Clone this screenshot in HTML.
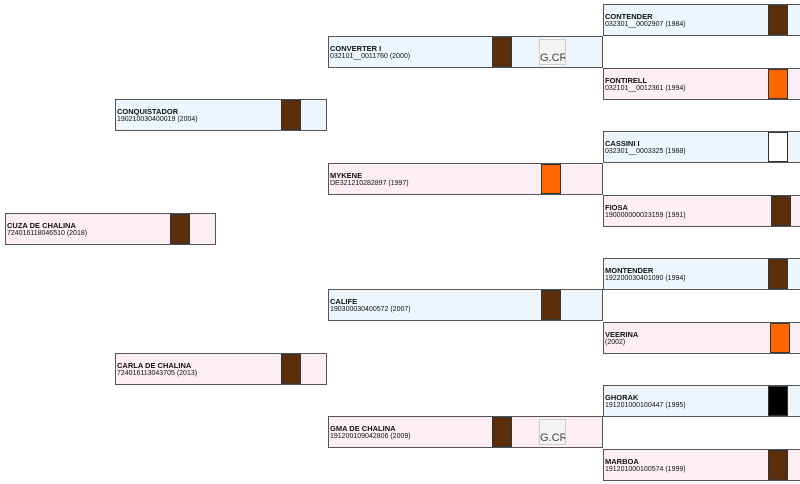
<!DOCTYPE html><html><head><style>
body{margin:0;width:800px;height:484px;position:relative;overflow:hidden;background:#fff;font-family:"Liberation Sans",sans-serif}
.b{position:absolute;box-sizing:border-box;border:1px solid #555;font-size:7px;line-height:8px;padding:0 0 0 1px;color:#111}
.b b{display:block;font-size:7.5px;padding-top:7px;line-height:9px}
.m{background:#eef6fd}.f{background:#fdeef3}
.c{position:absolute;top:0;bottom:0;width:20px;box-sizing:border-box;border:1px solid #333}
.br{background:#5c2e0a}.or{background:#ff6600}.wh{background:#fff}.bk{background:#000}
.img{position:absolute;top:2px;width:27px;height:26px;background:#f4f4f4;border:1px solid #ccc;font-size:11px;line-height:12px;color:#444;box-sizing:border-box;padding-top:12px;overflow:hidden}
</style></head><body>
<div class="b f" style="left:5px;top:213px;width:211px;height:32px"><b>CUZA DE CHALINA</b>724016118046510 (2018)<div class="c br" style="left:164px"></div></div>
<div class="b m" style="left:115px;top:99px;width:212px;height:32px"><b>CONQUISTADOR</b>190210030400019 (2004)<div class="c br" style="left:165px"></div></div>
<div class="b f" style="left:115px;top:353px;width:212px;height:32px"><b>CARLA DE CHALINA</b>724016113043705 (2013)<div class="c br" style="left:165px"></div></div>
<div class="b m" style="left:328px;top:36px;width:275px;height:32px"><b>CONVERTER I</b>032101__0011760 (2000)<div class="c br" style="left:163px"></div><div class="img" style="left:210px">G.CR</div></div>
<div class="b f" style="left:328px;top:163px;width:275px;height:32px"><b>MYKENE</b>DE321210282897 (1997)<div class="c or" style="left:212px"></div></div>
<div class="b m" style="left:328px;top:289px;width:275px;height:32px"><b>CALIFE</b>190300030400572 (2007)<div class="c br" style="left:212px"></div></div>
<div class="b f" style="left:328px;top:416px;width:275px;height:32px"><b>GMA DE CHALINA</b>191200109042806 (2009)<div class="c br" style="left:163px"></div><div class="img" style="left:210px">G.CR</div></div>
<div class="b m" style="left:603px;top:4px;width:200px;height:32px"><b>CONTENDER</b>032301__0002907 (1984)<div class="c br" style="left:164px"></div></div>
<div class="b f" style="left:603px;top:68px;width:200px;height:32px"><b>FONTIRELL</b>032101__0012361 (1994)<div class="c or" style="left:164px"></div></div>
<div class="b m" style="left:603px;top:131px;width:200px;height:32px"><b>CASSINI I</b>032301__0003325 (1988)<div class="c wh" style="left:164px"></div></div>
<div class="b f" style="left:603px;top:195px;width:200px;height:32px"><b>FIOSA</b>190000000023159 (1991)<div class="c br" style="left:167px"></div></div>
<div class="b m" style="left:603px;top:258px;width:200px;height:32px"><b>MONTENDER</b>192200030401090 (1994)<div class="c br" style="left:164px"></div></div>
<div class="b f" style="left:603px;top:322px;width:200px;height:32px"><b>VEERINA</b>(2002)<div class="c or" style="left:166px"></div></div>
<div class="b m" style="left:603px;top:385px;width:200px;height:32px"><b>GHORAK</b>191201000100447 (1995)<div class="c bk" style="left:164px"></div></div>
<div class="b f" style="left:603px;top:449px;width:200px;height:32px"><b>MARBOA</b>191201000100574 (1999)<div class="c br" style="left:164px"></div></div>
</body></html>
